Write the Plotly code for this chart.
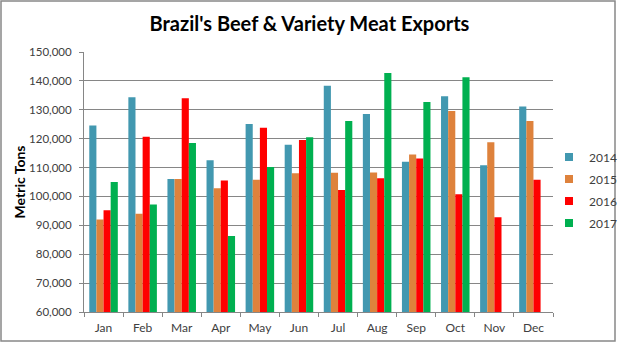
import plotly.graph_objects as go

months = ["Jan", "Feb", "Mar", "Apr", "May", "Jun", "Jul", "Aug", "Sep", "Oct", "Nov", "Dec"]
y2014 = [124600, 134300, 106000, 112500, 125100, 117900, 138300, 128500, 112000, 134700, 110800, 131100]
y2015 = [92000, 94000, 106000, 102800, 105800, 108000, 108200, 108300, 114500, 129600, 118800, 126100]
y2016 = [95200, 120700, 134000, 105500, 123800, 119500, 102200, 106300, 113100, 100800, 92800, 105800]
y2017 = [105000, 97200, 118500, 86300, 110200, 120500, 126100, 142700, 132700, 141300, None, None]

series = [("2014", y2014, "#4298B0"), ("2015", y2015, "#DE823C"),
          ("2016", y2016, "#FF0000"), ("2017", y2017, "#00B050")]

W, H = 619, 343
ML, MR, MT, MB = 84, 66, 52, 31
PW, PH = W - ML - MR, H - MT - MB

fig = go.Figure()
for name, vals, col in series:
    fig.add_trace(go.Bar(x=months, y=vals, name=name, showlegend=False,
                         marker=dict(color=col, line=dict(width=0))))
for name, vals, col in series:
    fig.add_trace(go.Scatter(x=[None], y=[None], mode="markers", name=name, legendgroup=name,
                             marker=dict(symbol="square", size=8, color=col)))

font = "Lato, 'Open Sans', sans-serif"
fig.update_layout(
    width=W, height=H,
    margin=dict(l=ML, r=MR, t=MT, b=MB, autoexpand=False),
    paper_bgcolor="white", plot_bgcolor="white",
    barmode="group", bargap=0.27, bargroupgap=0,
    font=dict(family=font, size=11, color="#404040"),
    title=dict(text="<b>Brazil's Beef & Variety Meat Exports</b>", x=0.5, xanchor="center",
               y=1 - 24 / H, yanchor="middle", font=dict(size=20, color="#000000", family=font)),
    legend=dict(x=(549 - ML) / PW, xanchor="left", y=(H - 190 - MB) / PH, yanchor="middle",
                font=dict(size=12, color="#404040"), traceorder="grouped",
                itemwidth=30, tracegroupgap=3, bgcolor="rgba(0,0,0,0)"),
    xaxis=dict(showline=True, linecolor="#868686", linewidth=1, ticks="outside", tickson="boundaries",
               ticklen=4, tickcolor="#868686", showgrid=False, ticklabelstandoff=5,
               tickfont=dict(size=12, color="#404040")),
    yaxis=dict(range=[60000, 150000], dtick=10000, tickformat=",", showline=True, linecolor="#868686",
               ticks="outside", ticklen=4, tickcolor="#868686", showgrid=True, gridcolor="#868686",
               gridwidth=1, ticklabelstandoff=5, tickfont=dict(size=11.5, color="#404040"),
               title=dict(text="<b>Metric Tons</b>", font=dict(size=14, color="#000000"), standoff=0)),
    shapes=[dict(type="rect", xref="paper", yref="paper",
                 x0=(1 - ML) / PW, x1=(615 - ML) / PW,
                 y0=(H - 341 - MB) / PH, y1=(H - 1 - MB) / PH,
                 line=dict(color="#888888", width=1.5), fillcolor="rgba(0,0,0,0)", layer="below")],
)

fig.write_html("out.html")
